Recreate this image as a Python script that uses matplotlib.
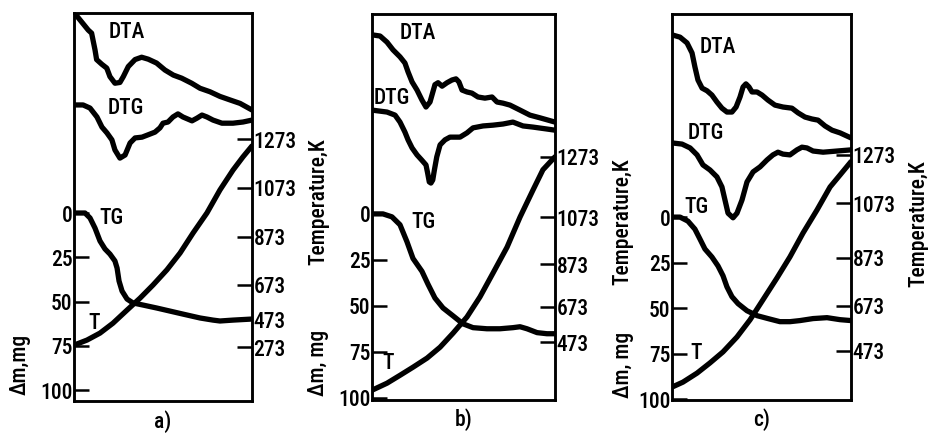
import numpy as np
import matplotlib
matplotlib.use("Agg")
import matplotlib.pyplot as plt
from matplotlib import font_manager

# pick a condensed sans if available
_names = {f.name for f in font_manager.fontManager.ttflist}
_cands = ['DejaVu Sans Condensed', 'Liberation Sans Narrow', 'Roboto Condensed', 'Open Sans Condensed']
_fam = [c for c in _cands if c in _names]
plt.rcParams['font.family'] = _fam + ['DejaVu Sans']
plt.rcParams['font.stretch'] = 'condensed'
plt.rcParams['font.weight'] = 'medium'

# ---------------- data (x = relative time, %) ----------------
# Panel a
a_dta_x = [1.1, 8.0, 9.9, 11.8, 12.7, 15.6, 18.4, 20.2, 23.0, 25.8, 27.7, 30.5, 34.3, 38.0, 41.7,
           46.4, 51.1, 55.8, 60.5, 66.1, 70.8, 76.4, 82.0, 87.6, 93.3, 100]
a_dta_y = [0.995, 0.956, 0.948, 0.905, 0.880, 0.868, 0.858, 0.836, 0.819, 0.821, 0.836, 0.862, 0.880,
           0.886, 0.881, 0.871, 0.853, 0.840, 0.832, 0.819, 0.806, 0.797, 0.785, 0.776, 0.767, 0.750]
a_dtg_x = [0, 5.1, 9.0, 12.9, 15.7, 18.5, 21.3, 23.0, 25.8, 28.7, 31.5, 34.3, 38.2, 41.6, 45.5, 48.3,
           50.0, 52.8, 55.6, 58.4, 61.2, 66.3, 69.1, 71.9, 74.7, 78.1, 83.1, 89.3, 94.9, 100]
a_dtg_y = [0.763, 0.763, 0.755, 0.732, 0.706, 0.691, 0.673, 0.647, 0.626, 0.634, 0.665, 0.678, 0.680,
           0.686, 0.693, 0.704, 0.716, 0.719, 0.732, 0.740, 0.732, 0.722, 0.729, 0.737, 0.732, 0.724,
           0.716, 0.716, 0.719, 0.724]
a_tg_x = [0, 6.2, 9.0, 11.8, 14.6, 17.4, 20.2, 23.0, 24.2, 25.3, 27.0, 29.8, 33.1, 38.8, 46.6, 53.9,
          61.2, 70.8, 78.1, 82.0, 89.3, 100]
a_tg_mg = [0, 0, 2.8, 8.5, 15.8, 20.3, 23.2, 27.1, 31.1, 38.4, 44.1, 48.6, 50.8, 52.0, 53.7, 55.4,
           57.1, 59.3, 60.5, 61.0, 60.5, 59.9]
a_t_x = [0, 7.3, 14.6, 21.9, 29.8, 37.1, 44.4, 52.2, 59.6, 66.9, 74.7, 82.0, 89.3, 94.9, 100]
a_t_K = [287, 323, 373, 444, 526, 596, 673, 736, 806, 889, 971, 1065, 1146, 1200, 1245]
a_temp_ticks = [273, 473, 673, 873, 1073, 1273]

# Panel b
b_dta_x = [0, 4.4, 8.2, 11.5, 15.3, 18.0, 19.7, 21.9, 24.6, 27.3, 29.5, 31.7, 34.4, 36.1, 38.3, 41.0,
           43.7, 45.9, 47.5, 49.2, 51.9, 54.6, 57.9, 61.7, 65.6, 68.3, 71.6, 75.4, 80.9, 86.3, 91.8, 100]
b_dta_y = [0.946, 0.943, 0.927, 0.907, 0.889, 0.873, 0.850, 0.824, 0.803, 0.777, 0.759, 0.772, 0.817,
           0.822, 0.813, 0.822, 0.829, 0.832, 0.824, 0.803, 0.798, 0.795, 0.785, 0.782, 0.785, 0.772,
           0.769, 0.764, 0.751, 0.738, 0.731, 0.720]
b_dtg_x = [0, 8.2, 12.6, 15.3, 18.0, 19.7, 21.9, 24.6, 27.1, 29.5, 30.4, 31.3, 32.2, 33.2, 34.1, 35.4,
           37.2, 39.9, 42.6, 48.1, 51.9, 55.2, 60.7, 66.1, 71.6, 77.0, 82.5, 88.0, 95.6, 100]
b_dtg_y = [0.751, 0.746, 0.738, 0.720, 0.694, 0.674, 0.653, 0.635, 0.622, 0.609, 0.588, 0.565, 0.562,
           0.570, 0.596, 0.630, 0.661, 0.674, 0.681, 0.681, 0.692, 0.705, 0.710, 0.712, 0.715, 0.720,
           0.710, 0.707, 0.702, 0.699]
b_tg_x = [0, 6.0, 10.9, 15.3, 19.1, 22.4, 27.3, 30.6, 34.4, 38.8, 44.3, 49.7, 55.2, 62.8, 69.9, 77.0,
          80.9, 84.7, 90.2, 95.6, 100]
b_tg_mg = [0, 0, 1.6, 5.9, 15.1, 24.2, 31.2, 38.2, 45.7, 51.1, 55.4, 59.7, 61.8, 62.4, 62.4, 61.8,
           61.3, 62.4, 64.5, 65.1, 65.1]
b_t_x = [0, 8.2, 15.3, 22.4, 30.1, 37.2, 44.3, 51.9, 59.0, 66.1, 73.8, 80.9, 88.0, 93.4, 100]
b_t_K = [199, 239, 284, 330, 382, 444, 524, 616, 720, 831, 945, 1073, 1163, 1230, 1273]
b_temp_ticks = [473, 673, 873, 1073, 1273]

# Panel c
c_dta_x = [0, 4.5, 8.4, 11.2, 12.8, 14.5, 16.8, 19.6, 22.3, 25.1, 27.9, 30.7, 33.5, 35.8, 38.0, 39.7,
           41.3, 43.0, 44.7, 47.5, 50.3, 53.6, 57.5, 62.0, 67.0, 70.4, 74.3, 78.2, 81.6, 85.5, 89.4,
           93.9, 100]
c_dta_y = [0.946, 0.940, 0.925, 0.899, 0.863, 0.829, 0.808, 0.801, 0.790, 0.772, 0.756, 0.746, 0.746,
           0.759, 0.785, 0.811, 0.819, 0.811, 0.798, 0.798, 0.790, 0.777, 0.764, 0.759, 0.756, 0.744,
           0.733, 0.728, 0.725, 0.710, 0.699, 0.692, 0.679]
c_dtg_x = [0, 5.6, 10.1, 14.0, 17.3, 21.2, 25.1, 27.9, 29.6, 31.3, 34.1, 36.3, 39.1, 41.9, 45.3, 49.2,
           53.1, 56.4, 59.2, 62.0, 65.9, 69.8, 72.6, 75.4, 78.8, 84.4, 92.2, 100]
c_dtg_y = [0.666, 0.663, 0.653, 0.635, 0.609, 0.596, 0.578, 0.552, 0.518, 0.484, 0.472, 0.484, 0.518,
           0.565, 0.591, 0.604, 0.622, 0.635, 0.642, 0.637, 0.635, 0.648, 0.655, 0.653, 0.645, 0.642,
           0.645, 0.648]
c_tg_x = [0, 4.5, 8.9, 12.8, 15.6, 18.4, 22.3, 25.7, 28.5, 30.7, 33.5, 36.9, 41.9, 47.5, 53.6, 60.3,
          65.9, 71.5, 78.8, 86.6, 93.9, 100]
c_tg_mg = [0, 0, 2.2, 6.6, 12.0, 17.5, 21.9, 26.8, 32.2, 38.3, 43.7, 47.5, 51.4, 54.1, 55.7, 57.4,
           57.4, 56.8, 55.7, 55.2, 56.3, 56.8]
c_t_x = [0, 6.1, 14.0, 21.2, 28.5, 36.3, 43.6, 50.8, 58.7, 65.9, 73.2, 81.0, 88.3, 93.9, 100]
c_t_K = [313, 335, 375, 420, 469, 535, 611, 698, 790, 877, 964, 1048, 1140, 1190, 1245]
c_temp_ticks = [473, 673, 873, 1073, 1273]

mass_ticks = [0, 25, 50, 75, 100]
panel_letters = ['a)', 'b)', 'c)']

# ---------------- helpers ----------------
def thermo_scale(temps, fracs):
    """Piecewise-linear (hand-drawn) temperature scale, linearly extrapolated."""
    t = np.asarray(temps, float)
    f = np.asarray(fracs, float)
    s_lo = (f[1] - f[0]) / (t[1] - t[0])
    s_hi = (f[-1] - f[-2]) / (t[-1] - t[-2])

    def fwd(T):
        T = np.asarray(T, float)
        out = np.interp(T, t, f)
        out = np.where(T < t[0], f[0] + (T - t[0]) * s_lo, out)
        out = np.where(T > t[-1], f[-1] + (T - t[-1]) * s_hi, out)
        return out

    def inv(F):
        F = np.asarray(F, float)
        out = np.interp(F, f, t)
        out = np.where(F < f[0], t[0] + (F - f[0]) / s_lo, out)
        out = np.where(F > f[-1], t[-1] + (F - f[-1]) / s_hi, out)
        return out
    return fwd, inv


W, H = 929, 434
fig = plt.figure(figsize=(W / 100, H / 100), dpi=100)

panels = [
    dict(box=(74, 13, 252, 401), mlim=(106.2, -113.0),
         tfr=[0.139, 0.211, 0.299, 0.423, 0.549, 0.675],
         ticks=a_temp_ticks, dta=(a_dta_x, a_dta_y), dtg=(a_dtg_x, a_dtg_y),
         tg=(a_tg_x, a_tg_mg), T=(a_t_x, a_t_K),
         lab=dict(DTA=(0.298, 0.951), DTG=(0.292, 0.755), TG=(0.213, 0.472), T=(0.112, 0.201)),
         mlab=(-0.303, 0.093), tlab=(1.371, 0.513), mtext='Δm,mg'),
    dict(box=(372, 14, 555, 400), mlim=(101.1, -108.6),
         tfr=[0.150, 0.241, 0.352, 0.474, 0.630],
         ticks=b_temp_ticks, dta=(b_dta_x, b_dta_y), dtg=(b_dtg_x, b_dtg_y),
         tg=(b_tg_x, b_tg_mg), T=(b_t_x, b_t_K),
         lab=dict(DTA=(0.251, 0.951), DTG=(0.109, 0.782), TG=(0.279, 0.461), T=(0.087, 0.096)),
         mlab=(-0.295, 0.096), tlab=(1.366, 0.461), mtext='Δm, mg'),
    dict(box=(672, 14, 851, 400), mlim=(100.4, -111.5),
         tfr=[0.127, 0.244, 0.368, 0.510, 0.635],
         ticks=c_temp_ticks, dta=(c_dta_x, c_dta_y), dtg=(c_dtg_x, c_dtg_y),
         tg=(c_tg_x, c_tg_mg), T=(c_t_x, c_t_K),
         lab=dict(DTA=(0.257, 0.915), DTG=(0.190, 0.692), TG=(0.134, 0.500), T=(0.134, 0.122)),
         mlab=(-0.274, 0.091), tlab=(1.374, 0.456), mtext='Δm, mg'),
]

FS = 15.5
LW = 3.8
line_kw = dict(color='black', lw=LW, solid_joinstyle='round', solid_capstyle='round')

for p, letter in zip(panels, panel_letters):
    x0, y0, x1, y1 = p['box']
    ax = fig.add_axes([x0 / W, 1 - y1 / H, (x1 - x0) / W, (y1 - y0) / H])
    ax.set_xlim(0, 100)
    ax.set_ylim(*p['mlim'])
    ax.set_xticks([])
    ax.set_yticks(mass_ticks)
    ax.tick_params(axis='y', direction='in', length=11, width=1.8, pad=1.0, labelsize=FS)
    for s in ax.spines.values():
        s.set_linewidth(1.8)

    ax2 = ax.twinx()
    fwd, inv = thermo_scale(p['ticks'], p['tfr'])
    ax2.set_yscale('function', functions=(fwd, inv))
    ax2.set_ylim(float(inv(0.0)), float(inv(1.0)))
    ax2.set_yticks(p['ticks'])
    ax2.set_yticklabels([str(t) for t in p['ticks']])
    ax2.yaxis.set_minor_locator(matplotlib.ticker.NullLocator())
    ax2.tick_params(axis='y', direction='in', length=11, width=1.8, pad=1.0, labelsize=FS)
    for s in ax2.spines.values():
        s.set_linewidth(1.8)

    # DTA / DTG : relative signal (axes-fraction vertical units)
    trans = ax.get_xaxis_transform()
    ax.plot(*p['dta'], transform=trans, **line_kw)
    ax.plot(*p['dtg'], transform=trans, **line_kw)
    # TG in mg
    ax.plot(*p['tg'], **line_kw)
    # T in K
    ax2.plot(*p['T'], **line_kw)

    for name, (lx, ly) in p['lab'].items():
        ax.text(lx, ly, name, transform=ax.transAxes, ha='center', va='center', fontsize=FS)

    ax.text(p['mlab'][0], p['mlab'][1], p['mtext'], transform=ax.transAxes, rotation=90,
            ha='center', va='center', fontsize=FS)
    ax.text(p['tlab'][0], p['tlab'][1], 'Temperature,K', transform=ax.transAxes, rotation=90,
            ha='center', va='center', fontsize=FS)
    ax.text(0.5, -0.052, letter, transform=ax.transAxes, ha='center', va='center', fontsize=FS)

fig.savefig('out.png', dpi=100)
